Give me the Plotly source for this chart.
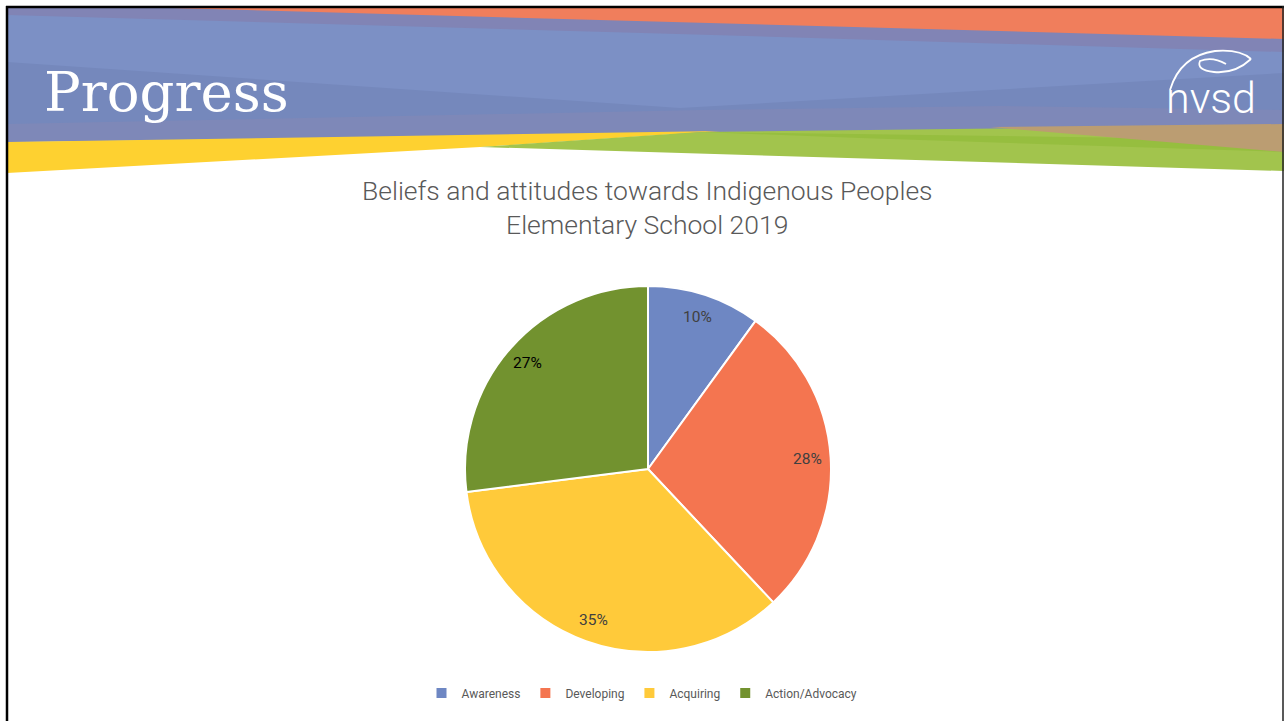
import plotly.graph_objects as go
import math

W, H = 1284, 721

# ---------------- data ----------------
categories = ["Awareness", "Developing", "Acquiring", "Action/Advocacy"]
values = [10, 28, 35, 27]
colors = ["#6E87C3", "#F47550", "#FFCA3A", "#72922F"]
label_colors = ["#404040", "#404040", "#404040", "#000000"]
chart_title = "Beliefs and attitudes towards Indigenous Peoples<br>Elementary School 2019"
slide_title = "Progress"
logo_text = "nvsd"

# ---------------- helpers ----------------
def px(x):
    return x / W

def py(y):
    return 1 - y / H

def poly(points):
    return "M " + " L ".join(f"{px(x):.5f},{py(y):.5f}" for x, y in points) + " Z"

fig = go.Figure()

# pie geometry (pixels)
cx, cy, R = 648, 469, 183
fig.add_trace(go.Pie(
    labels=categories,
    values=values,
    marker=dict(colors=colors, line=dict(color="white", width=2)),
    sort=False,
    direction="clockwise",
    rotation=0,
    textinfo="none",
    hoverinfo="label+percent",
    domain=dict(x=[px(cx - R), px(cx + R)], y=[py(cy + R), py(cy - R)]),
    showlegend=True,
))

# percentage labels placed along each slice's mid-angle (computed from data)
total = sum(values)
cum = 0
annotations = []
for v, c in zip(values, label_colors):
    mid = (cum + v / 2) / total * 2 * math.pi
    cum += v
    lx = cx + 0.875 * R * math.sin(mid)
    ly = cy - 0.875 * R * math.cos(mid)
    annotations.append(dict(
        x=px(lx), y=py(ly), xref="paper", yref="paper",
        text=f"{round(v / total * 100)}%", showarrow=False,
        font=dict(family="Roboto", size=15.5, color=c),
        xanchor="center", yanchor="middle",
    ))

# chart title
annotations.append(dict(
    x=px(648), y=py(207), xref="paper", yref="paper",
    text=chart_title, showarrow=False,
    font=dict(family="Roboto", size=26.5, color="#595959", weight=300),
    xanchor="center", yanchor="middle", align="center",
))

# slide title
annotations.append(dict(
    x=px(42), y=py(92), xref="paper", yref="paper",
    text=slide_title, showarrow=False,
    font=dict(family="DejaVu Serif", size=54.5, color="white"),
    xanchor="left", yanchor="middle",
))

# logo text
annotations.append(dict(
    x=px(1211), y=py(98), xref="paper", yref="paper",
    text=logo_text, showarrow=False,
    font=dict(family="Roboto", size=43, color="white", weight=300),
    xanchor="center", yanchor="middle",
))

# ---------------- banner shapes ----------------
shapes = []
def add_poly(points, color):
    shapes.append(dict(type="path", path=poly(points), xref="paper", yref="paper",
                       fillcolor=color, line=dict(width=0), layer="below"))

add_poly([(7, 7), (1284, 7), (1284, 126), (7, 142)], "#7588BC")
add_poly([(7, 124), (700, 110), (1000, 106), (1284, 110), (1284, 126), (7, 142)], "#7E88B8")
add_poly([(7, 7), (1284, 7), (1284, 73), (680, 108), (7, 62)], "#7C90C5")
add_poly([(7, 7), (1284, 7), (1284, 52), (642, 33), (7, 15)], "#8184B5")
add_poly([(135, 7), (1284, 7), (1284, 39)], "#F07E5C")
add_poly([(7, 142), (720, 131), (480, 147), (7, 173)], "#FED130")
add_poly([(480, 147), (700, 132), (1284, 125), (1284, 171)], "#A2C44D")
add_poly([(700, 132), (1284, 140), (1284, 152), (860, 138)], "#96BE3F")
add_poly([(990, 127), (1284, 124), (1284, 152)], "#BB9D72")

# leaf outline of logo
leaf_outer = (f"M {px(1170):.5f},{py(90):.5f} "
              f"Q {px(1180):.5f},{py(56):.5f} {px(1215):.5f},{py(51):.5f} "
              f"Q {px(1240):.5f},{py(49):.5f} {px(1251):.5f},{py(59):.5f}")
leaf_inner = (f"M {px(1251):.5f},{py(59):.5f} "
              f"Q {px(1235):.5f},{py(74):.5f} {px(1214):.5f},{py(72):.5f} "
              f"Q {px(1196):.5f},{py(70):.5f} {px(1200):.5f},{py(61):.5f} "
              f"Q {px(1212):.5f},{py(56):.5f} {px(1226):.5f},{py(64):.5f}")
for p in (leaf_outer, leaf_inner):
    shapes.append(dict(type="path", path=p, xref="paper", yref="paper",
                       line=dict(color="white", width=1.8), fillcolor="rgba(0,0,0,0)"))

# slide frame
shapes.append(dict(type="line", xref="paper", yref="paper",
                   x0=px(7), x1=px(7), y0=py(6), y1=py(725), line=dict(color="black", width=2.5)))
shapes.append(dict(type="line", xref="paper", yref="paper",
                   x0=px(6), x1=px(1284), y0=py(7), y1=py(7), line=dict(color="black", width=2.5)))
shapes.append(dict(type="line", xref="paper", yref="paper",
                   x0=px(1283), x1=px(1283), y0=py(6), y1=py(725), line=dict(color="#222222", width=1.5)))

fig.update_layout(
    width=W, height=H,
    margin=dict(l=0, r=0, t=0, b=0),
    paper_bgcolor="white",
    plot_bgcolor="white",
    shapes=shapes,
    annotations=annotations,
    legend=dict(
        orientation="h", x=0.5, xanchor="center", y=py(693), yanchor="middle",
        font=dict(family="Roboto", size=12, color="#595959"),
        itemwidth=30, bgcolor="rgba(0,0,0,0)",
    ),
)

fig.write_html("out.html")
